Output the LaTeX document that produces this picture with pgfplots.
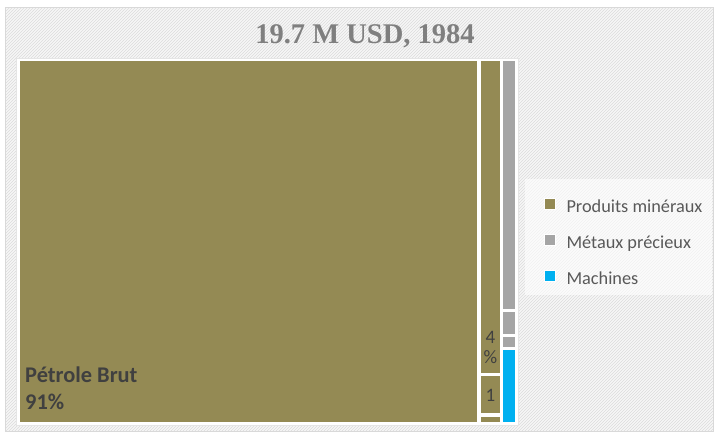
\documentclass[border=0pt]{standalone}
\usepackage{pgfplots}
\pgfplotsset{compat=1.18}
\usepackage{fontspec}
\setmainfont{Carlito}
\newfontfamily\titlefont{Liberation Serif}
\usetikzlibrary{patterns}
\definecolor{oliveC}{HTML}{948A54}
\definecolor{grayC}{HTML}{A5A5A5}
\definecolor{blueC}{HTML}{00B0F0}
\definecolor{txt}{HTML}{595959}
\definecolor{lbl}{HTML}{404040}
\definecolor{ttl}{HTML}{7F7F7F}
\begin{document}
\begin{tikzpicture}
\begin{axis}[x=1pt, y=1pt, y dir=reverse,
  xmin=0, xmax=716, ymin=0, ymax=434,
  hide axis, scale only axis, clip=false,
  legend style={at={(axis cs:544,197)}, anchor=north west, draw=none, fill=none,
    font=\fontsize{18.3}{21}\selectfont, text=txt, row sep=14.8pt, inner sep=0pt,
    nodes={text height=13pt, text depth=4.5pt, inner xsep=10.5pt}},
  legend cell align=left,
  legend image code/.code={\fill[#1,draw=white,line width=0.8pt] (0pt,-1pt) rectangle (11pt,10pt);}]
% background
\addplot[draw=none, fill=white, forget plot] coordinates {(0,0) (716,0) (716,434) (0,434)} --cycle;
\addplot[draw=gray!30, preaction={fill=gray!6}, pattern=north east lines, pattern color=gray!28, forget plot]
  coordinates {(5,7) (713,7) (713,431) (5,431)} --cycle;
% plot area
\addplot[draw=gray!20, fill=white, forget plot] coordinates {(16,58) (518,58) (518,425) (16,425)} --cycle;
% legend background
\addplot[draw=none, fill=white, fill opacity=0.6, forget plot] coordinates {(525,179) (712,179) (712,295) (525,295)} --cycle;
% tiles (first of each group carries the legend entry)
\addplot[draw=none, fill=oliveC] coordinates {(20,61) (477,61) (477,421.5) (20,421.5)} --cycle;
\addlegendentry{Produits minéraux}
\addplot[draw=none, fill=grayC] coordinates {(503,61) (515,61) (515,309) (503,309)} --cycle;
\addlegendentry{Métaux précieux}
\addplot[draw=none, fill=blueC] coordinates {(503,349.5) (515,349.5) (515,421.5) (503,421.5)} --cycle;
\addlegendentry{Machines}
\addplot[draw=none, fill=oliveC, forget plot] coordinates {(481,61) (500,61) (500,372.7) (481,372.7)} --cycle;
\addplot[draw=none, fill=oliveC, forget plot] coordinates {(481,376) (500,376) (500,413) (481,413)} --cycle;
\addplot[draw=none, fill=oliveC, forget plot] coordinates {(481,416.7) (500,416.7) (500,421.5) (481,421.5)} --cycle;
\addplot[draw=none, fill=grayC, forget plot] coordinates {(503,312) (515,312) (515,334) (503,334)} --cycle;
\addplot[draw=none, fill=grayC, forget plot] coordinates {(503,337) (515,337) (515,346.7) (503,346.7)} --cycle;
% labels
\node[anchor=base, font=\titlefont\bfseries\fontsize{28.5}{32}\selectfont, text=ttl] at (axis cs:365,43.3) {19.7 M USD, 1984};
\node[anchor=base west, inner sep=0pt, font=\bfseries\fontsize{22.4}{26}\selectfont, text=lbl] at (axis cs:25,382) {Pétrole Brut};
\node[anchor=base west, inner sep=0pt, font=\bfseries\fontsize{22.4}{26}\selectfont, text=lbl] at (axis cs:25,409) {91\%};
\node[anchor=base, inner sep=0pt, font=\fontsize{19}{21}\selectfont, text=lbl] at (axis cs:490.5,343) {4};
\node[anchor=base, inner sep=0pt, font=\fontsize{19}{21}\selectfont, text=lbl] at (axis cs:490.5,363) {\%};
\node[anchor=base, inner sep=0pt, font=\fontsize{19}{21}\selectfont, text=lbl] at (axis cs:490.5,401.7) {1};
\end{axis}
\end{tikzpicture}
\end{document}
